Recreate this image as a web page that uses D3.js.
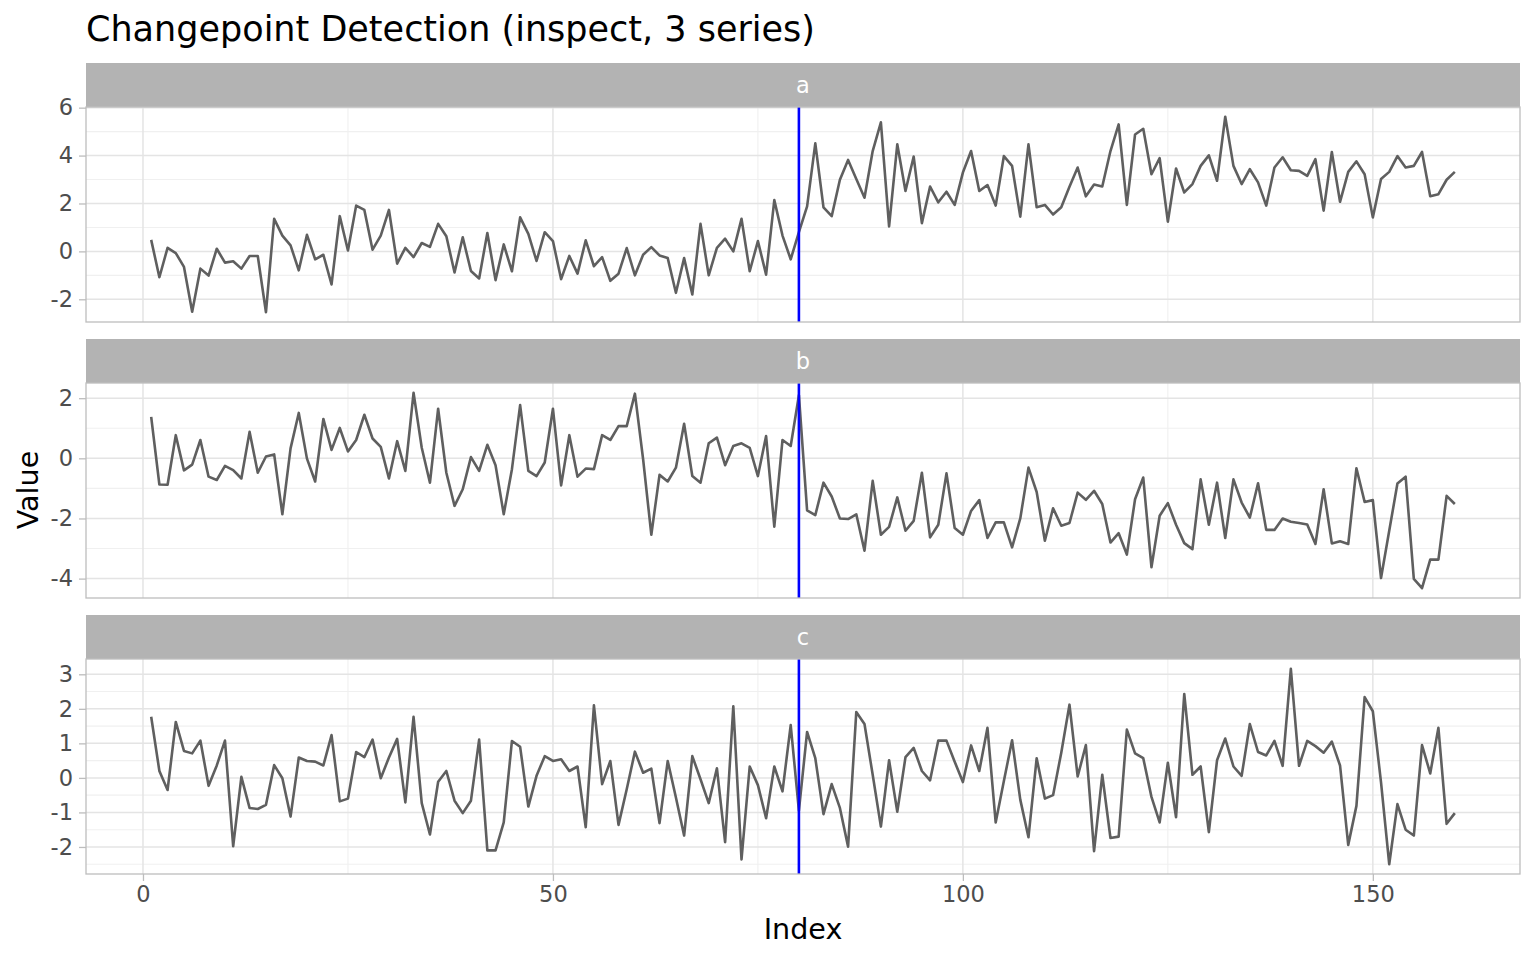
<!DOCTYPE html>
<html>
<head>
<meta charset="utf-8">
<script src="https://cdn.jsdelivr.net/npm/d3@7/dist/d3.min.js"></script>
<style>
  body { margin: 0; background: #fff; }
  text { font-family: "DejaVu Sans", sans-serif; }
</style>
</head>
<body>
<div id="chart-area"></div>
<script>
// facet labels and values
const facetNames = ['a', 'b', 'c']
const changepoint = 80

const seriesA = [
  0.48, -1.08, 0.15, -0.07, -0.65, -2.52, -0.72, -1.01, 0.11, -0.47,
  -0.41, -0.72, -0.19, -0.19, -2.54, 1.36, 0.66, 0.25, -0.79, 0.69,
  -0.33, -0.14, -1.38, 1.47, 0.04, 1.91, 1.73, 0.07, 0.66, 1.73,
  -0.51, 0.15, -0.24, 0.35, 0.19, 1.15, 0.63, -0.88, 0.59, -0.82,
  -1.13, 0.77, -1.20, 0.29, -0.83, 1.42, 0.73, -0.40, 0.80, 0.43,
  -1.16, -0.19, -0.93, 0.46, -0.62, -0.24, -1.23, -0.93, 0.14, -1.00,
  -0.14, 0.18, -0.17, -0.28, -1.73, -0.28, -1.80, 1.15, -1.00, 0.15,
  0.53, 0.00, 1.36, -0.83, 0.43, -0.97, 2.14, 0.66, -0.33, 0.80,
  1.88, 4.51, 1.84, 1.47, 2.99, 3.82, 3.02, 2.24, 4.19, 5.39,
  1.04, 4.47, 2.52, 3.96, 1.18, 2.71, 2.05, 2.49, 1.94, 3.29,
  4.19, 2.52, 2.77, 1.91, 3.98, 3.57, 1.45, 4.47, 1.84, 1.94,
  1.54, 1.84, 2.70, 3.50, 2.30, 2.79, 2.71, 4.19, 5.30, 1.94,
  4.88, 5.12, 3.22, 3.89, 1.24, 3.46, 2.46, 2.81, 3.57, 4.01,
  2.95, 5.62, 3.57, 2.81, 3.43, 2.88, 1.91, 3.50, 3.93, 3.39,
  3.36, 3.15, 3.85, 1.70, 4.15, 2.07, 3.32, 3.76, 3.22, 1.42,
  3.02, 3.32, 3.98, 3.50, 3.57, 4.15, 2.30, 2.39, 2.99, 3.32
]

const seriesB = [
  1.38, -0.87, -0.88, 0.77, -0.40, -0.21, 0.61, -0.61, -0.72, -0.25,
  -0.39, -0.67, 0.88, -0.48, 0.06, 0.13, -1.86, 0.33, 1.51, -0.01,
  -0.77, 1.31, 0.28, 1.01, 0.23, 0.61, 1.45, 0.66, 0.38, -0.67,
  0.57, -0.42, 2.18, 0.35, -0.81, 1.65, -0.48, -1.58, -1.03, 0.04,
  -0.42, 0.45, -0.23, -1.86, -0.36, 1.77, -0.42, -0.59, -0.14, 1.65,
  -0.90, 0.77, -0.61, -0.34, -0.36, 0.77, 0.61, 1.07, 1.07, 2.15,
  -0.03, -2.54, -0.55, -0.77, -0.31, 1.15, -0.59, -0.81, 0.50, 0.69,
  -0.23, 0.41, 0.50, 0.35, -0.59, 0.74, -2.27, 0.61, 0.41, 2.10,
  -1.73, -1.89, -0.81, -1.27, -2.00, -2.02, -1.86, -3.07, -0.75, -2.54,
  -2.28, -1.30, -2.41, -2.08, -0.48, -2.63, -2.21, -0.50, -2.32, -2.54,
  -1.75, -1.39, -2.65, -2.13, -2.13, -2.96, -2.00, -0.31, -1.12, -2.74,
  -1.66, -2.24, -2.15, -1.14, -1.38, -1.08, -1.52, -2.80, -2.49, -3.20,
  -1.36, -0.64, -3.62, -1.91, -1.49, -2.21, -2.82, -3.02, -0.70, -2.21,
  -0.81, -2.65, -0.70, -1.47, -1.97, -0.83, -2.38, -2.38, -2.00, -2.11,
  -2.15, -2.20, -2.85, -1.03, -2.83, -2.76, -2.85, -0.33, -1.45, -1.39,
  -3.98, -2.41, -0.84, -0.61, -4.01, -4.32, -3.37, -3.37, -1.25, -1.52
]

const seriesC = [
  1.77, 0.20, -0.35, 1.62, 0.78, 0.71, 1.08, -0.23, 0.36, 1.08,
  -1.98, 0.03, -0.87, -0.90, -0.78, 0.37, -0.01, -1.12, 0.59, 0.49,
  0.47, 0.36, 1.24, -0.68, -0.60, 0.75, 0.60, 1.11, -0.01, 0.59,
  1.13, -0.71, 1.77, -0.73, -1.64, -0.11, 0.20, -0.66, -1.02, -0.66,
  1.11, -2.10, -2.10, -1.29, 1.07, 0.90, -0.83, 0.06, 0.63, 0.49,
  0.54, 0.20, 0.33, -1.43, 2.10, -0.18, 0.49, -1.36, -0.33, 0.76,
  0.15, 0.27, -1.31, 0.49, -0.57, -1.67, 0.63, -0.04, -0.73, 0.28,
  -1.86, 2.07, -2.36, 0.33, -0.21, -1.17, 0.33, -0.39, 1.53, -0.95,
  1.33, 0.57, -1.05, -0.18, -0.87, -1.99, 1.91, 1.56, 0.09, -1.41,
  0.51, -0.98, 0.60, 0.87, 0.20, -0.07, 1.08, 1.08, 0.47, -0.12,
  0.94, 0.20, 1.45, -1.29, -0.09, 1.09, -0.63, -1.72, 0.57, -0.60,
  -0.50, 0.73, 2.12, 0.04, 0.95, -2.12, 0.09, -1.74, -1.70, 1.40,
  0.71, 0.57, -0.55, -1.29, 0.44, -1.14, 2.43, 0.09, 0.33, -1.57,
  0.51, 1.14, 0.33, 0.06, 1.56, 0.75, 0.65, 1.07, 0.35, 3.16,
  0.35, 1.07, 0.92, 0.73, 1.05, 0.36, -1.94, -0.81, 2.34, 1.93,
  -0.13, -2.50, -0.76, -1.50, -1.67, 0.95, 0.13, 1.45, -1.33, -1.02
]

const xTicks = [0, 50, 100, 150]
const xMinorTicks = [25, 75, 125]
const yTicksA = [-2, 0, 2, 4, 6]
const yMinorA = [-1, 1, 3, 5]
const yTicksB = [-4, -2, 0, 2]
const yMinorB = [-3, -1, 1]
const yTicksC = [-2, -1, 0, 1, 2, 3]
const yMinorC = [-2.5, -1.5, -0.5, 0.5, 1.5, 2.5]

const facets = [
  { name: facetNames[0], values: seriesA, ticks: yTicksA, minor: yMinorA },
  { name: facetNames[1], values: seriesB, ticks: yTicksB, minor: yMinorB },
  { name: facetNames[2], values: seriesC, ticks: yTicksC, minor: yMinorC }
]

const W = 1536, H = 960
const panelLeft = 86, panelRight = 1520
const panelTop = 63, stripH = 44, panelH = 215, gap = 17
const tickFont = '22.5px'

const svg = d3.select('#chart-area').append('svg')
  .attr('width', W)
  .attr('height', H)

svg.append('rect').attr('width', W).attr('height', H).attr('fill', '#fff')

const n = seriesA.length
const index = d3.range(1, n + 1)
const xPad = (n - 1) * 0.05
const xScale = d3.scaleLinear()
  .domain([1 - xPad, n + xPad])
  .range([panelLeft, panelRight])

// title
svg.append('text')
  .attr('x', panelLeft)
  .attr('y', 41)
  .attr('font-size', '35px')
  .attr('fill', '#000')
  .text('Changepoint Detection (inspect, 3 series)')

facets.forEach((f, k) => {
  const sy = panelTop + k * (stripH + panelH + gap)
  const py = sy + stripH

  const [mn, mx] = d3.extent(f.values)
  const pad = (mx - mn) * 0.05
  const yScale = d3.scaleLinear()
    .domain([mn - pad, mx + pad])
    .range([py + panelH, py])

  const g = svg.append('g')

  // strip
  g.append('rect')
    .attr('x', panelLeft).attr('y', sy)
    .attr('width', panelRight - panelLeft).attr('height', stripH)
    .attr('fill', '#b3b3b3')
  g.append('text')
    .attr('x', (panelLeft + panelRight) / 2)
    .attr('y', sy + stripH / 2)
    .attr('dy', '0.35em')
    .attr('text-anchor', 'middle')
    .attr('font-size', tickFont)
    .attr('fill', '#fff')
    .text(f.name)

  // minor grid
  g.selectAll('.ymin').data(f.minor).enter().append('line')
    .attr('x1', panelLeft).attr('x2', panelRight)
    .attr('y1', d => yScale(d)).attr('y2', d => yScale(d))
    .attr('stroke', '#f0f0f0').attr('stroke-width', 1.1)
  g.selectAll('.xmin').data(xMinorTicks).enter().append('line')
    .attr('x1', d => xScale(d)).attr('x2', d => xScale(d))
    .attr('y1', py).attr('y2', py + panelH)
    .attr('stroke', '#f0f0f0').attr('stroke-width', 1.1)

  // major grid
  g.selectAll('.ymaj').data(f.ticks).enter().append('line')
    .attr('x1', panelLeft).attr('x2', panelRight)
    .attr('y1', d => yScale(d)).attr('y2', d => yScale(d))
    .attr('stroke', '#e4e4e4').attr('stroke-width', 1.5)
  g.selectAll('.xmaj').data(xTicks).enter().append('line')
    .attr('x1', d => xScale(d)).attr('x2', d => xScale(d))
    .attr('y1', py).attr('y2', py + panelH)
    .attr('stroke', '#e4e4e4').attr('stroke-width', 1.5)

  // series line
  const line = d3.line()
    .x((d, i) => xScale(index[i]))
    .y(d => yScale(d))
  g.append('path')
    .datum(f.values)
    .attr('d', line)
    .attr('fill', 'none')
    .attr('stroke', '#5f5f5f')
    .attr('stroke-width', 2.6)
    .attr('stroke-linejoin', 'round')

  // changepoint
  g.append('line')
    .attr('x1', xScale(changepoint)).attr('x2', xScale(changepoint))
    .attr('y1', py).attr('y2', py + panelH)
    .attr('stroke', '#0000ff').attr('stroke-width', 2.6)

  // panel border
  g.append('rect')
    .attr('x', panelLeft).attr('y', py)
    .attr('width', panelRight - panelLeft).attr('height', panelH)
    .attr('fill', 'none')
    .attr('stroke', '#bdbdbd').attr('stroke-width', 1.3)

  // y axis
  const yAxisCall = d3.axisLeft(yScale)
    .tickValues(f.ticks)
    .tickSize(7)
    .tickPadding(6)
    .tickFormat(d => d < 0 ? '-' + Math.abs(d) : String(d))
  const ya = g.append('g')
    .attr('class', 'y axis')
    .attr('transform', `translate(${panelLeft}, 0)`)
    .call(yAxisCall)
  ya.select('.domain').remove()
  ya.selectAll('line').attr('stroke', '#bdbdbd').attr('stroke-width', 1.3)
  ya.selectAll('text')
    .attr('font-size', tickFont)
    .attr('fill', '#4d4d4d')
    .attr('font-family', '"DejaVu Sans", sans-serif')

  // x axis only under last panel
  if (k === facets.length - 1) {
    const xAxisCall = d3.axisBottom(xScale)
      .tickValues(xTicks)
      .tickSize(7)
      .tickPadding(5)
    const xa = g.append('g')
      .attr('class', 'x axis')
      .attr('transform', `translate(0, ${py + panelH})`)
      .call(xAxisCall)
    xa.select('.domain').remove()
    xa.selectAll('line').attr('stroke', '#bdbdbd').attr('stroke-width', 1.3)
    xa.selectAll('text')
      .attr('font-size', tickFont)
      .attr('fill', '#4d4d4d')
      .attr('font-family', '"DejaVu Sans", sans-serif')
  }
})

// axis titles
svg.append('text')
  .attr('x', (panelLeft + panelRight) / 2)
  .attr('y', 939)
  .attr('text-anchor', 'middle')
  .attr('font-size', '28.6px')
  .text('Index')

svg.append('text')
  .attr('transform', 'translate(38, 490) rotate(-90)')
  .attr('text-anchor', 'middle')
  .attr('font-size', '28.6px')
  .text('Value')
</script>
</body>
</html>
